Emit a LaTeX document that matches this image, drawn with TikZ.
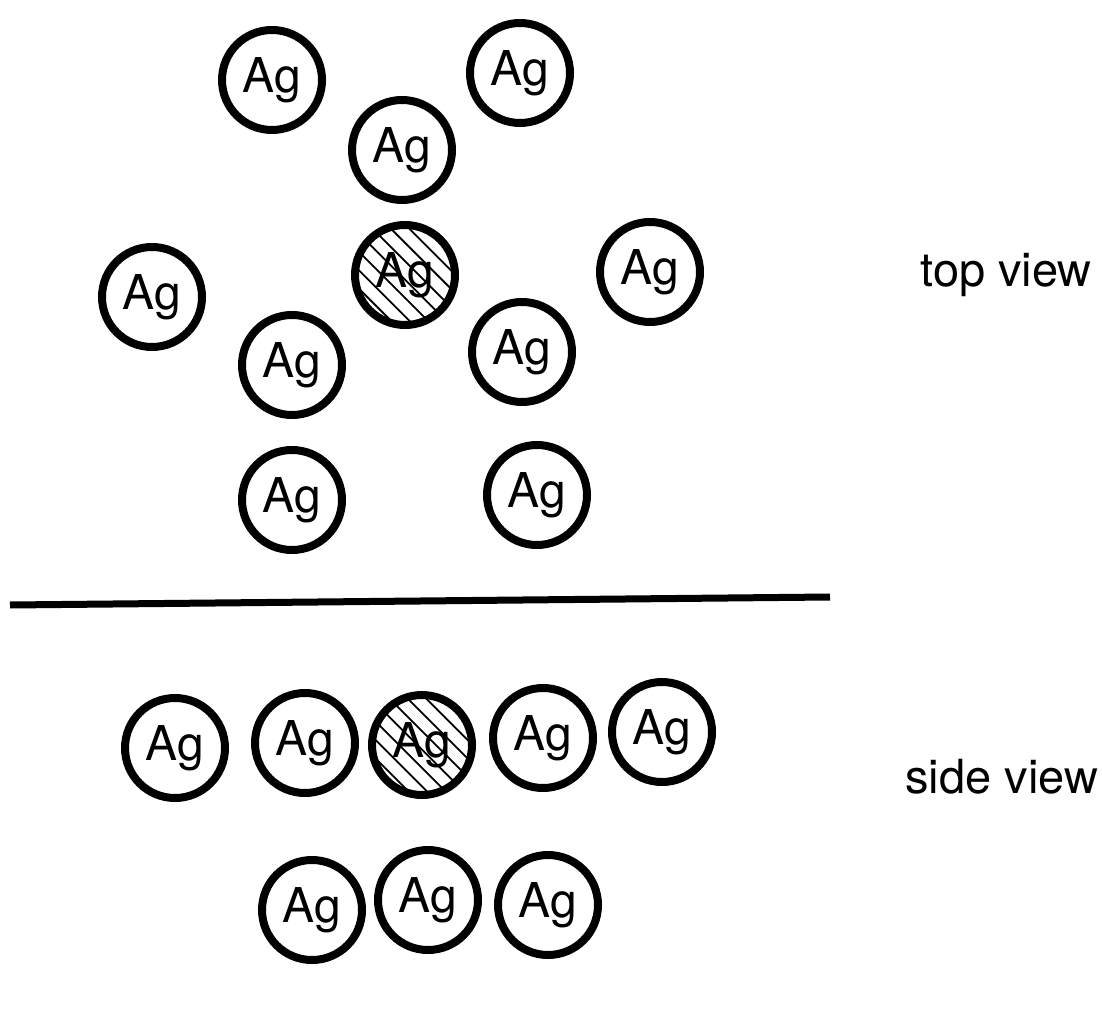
\documentclass[tikz,border=0pt]{standalone}
\usepackage{fontspec}
\setmainfont{TeX Gyre Heros}
\begin{document}
\begin{tikzpicture}[x=0.5pt,y=-0.5pt,
  atom/.style={circle, draw, line width=4pt, minimum size=50pt, inner sep=0pt,
    font=\fontsize{24}{28}\selectfont},
  hatched/.style={atom, path picture={
    \foreach \d in {-6,...,6}
      \draw[line width=0.9pt, shift={(path picture bounding box.center)}]
        (\d*4.6pt-30pt, \d*4.6pt+30pt) -- (\d*4.6pt+30pt, \d*4.6pt-30pt);}},
  caption/.style={anchor=west, inner sep=0pt, font=\fontsize{23.5}{28}\selectfont}]
\useasboundingbox (0,0) rectangle (1102,1010);

% top view
\node[atom] (t1) at (272,80) {Ag};
\node[atom] (t2) at (520,73) {Ag};
\node[atom] (t3) at (402,150) {Ag};
\node[atom] (t4) at (152,297) {Ag};
\node[hatched] (tc) at (405,275) {Ag};
\node[atom] (t6) at (650,272) {Ag};
\node[atom] (t7) at (292,365) {Ag};
\node[atom] (t8) at (522,352) {Ag};
\node[atom] (t9) at (292,500) {Ag};
\node[atom] (t10) at (537,495) {Ag};

% divider
\coordinate (dl) at (10,605);
\coordinate (dr) at (830,597);
\draw[line width=3.5pt] (dl) -- (dr);

% side view, upper row
\node[atom] (s1) at (175,748) {Ag};
\node[atom] (s2) at (305,743) {Ag};
\node[hatched] (sc) at (422,745) {Ag};
\node[atom] (s4) at (543,738) {Ag};
\node[atom] (s5) at (662,732) {Ag};

% side view, lower row
\node[atom] (b1) at (312,910) {Ag};
\node[atom] (b2) at (428,900) {Ag};
\node[atom] (b3) at (548,905) {Ag};

\node[caption] (lt) at (920,275) {top view};
\node[caption] (ls) at (905,777) {side view};
\end{tikzpicture}
\end{document}
